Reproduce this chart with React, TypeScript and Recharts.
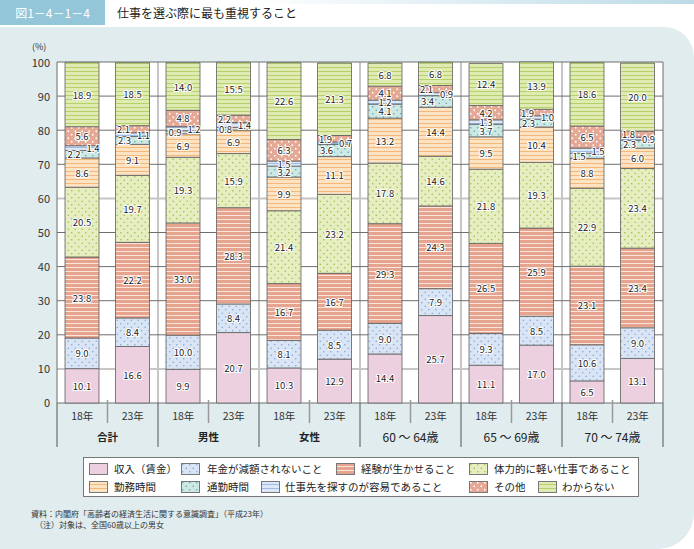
import React from "react";
import { BarChart, Bar, XAxis, YAxis, CartesianGrid, LabelList } from "recharts";

const groups = ["合計", "男性", "女性", "60 ～ 64歳", "65 ～ 69歳", "70 ～ 74歳"];
const years = ["18年", "23年"];

// 下から順に積み上げ（%）
const income = [10.1, 16.6, 9.9, 20.7, 10.3, 12.9, 14.4, 25.7, 11.1, 17.0, 6.5, 13.1];
const pension = [9.0, 8.4, 10.0, 8.4, 8.1, 8.5, 9.0, 7.9, 9.3, 8.5, 10.6, 9.0];
const experience = [23.8, 22.2, 33.0, 28.3, 16.7, 16.7, 29.3, 24.3, 26.5, 25.9, 23.1, 23.4];
const physical = [20.5, 19.7, 19.3, 15.9, 21.4, 23.2, 17.8, 14.6, 21.8, 19.3, 22.9, 23.4];
const hours = [8.6, 9.1, 6.9, 6.9, 9.9, 11.1, 13.2, 14.4, 9.5, 10.4, 8.8, 6.0];
const commute = [2.2, 2.3, 0.9, 0.8, 3.2, 3.6, 4.1, 3.4, 3.7, 2.3, 1.5, 2.3];
const findJob = [1.4, 1.1, 1.2, 1.4, 1.5, 0.7, 1.2, 0.9, 1.3, 1.0, 1.5, 0.9];
const other = [5.6, 2.1, 4.8, 2.2, 6.3, 1.9, 4.1, 2.1, 4.2, 1.9, 6.5, 1.8];
const unknown = [18.9, 18.5, 14.0, 15.5, 22.6, 21.3, 6.8, 6.8, 12.4, 13.9, 18.6, 20.0];

const yTicks = [0, 10, 20, 30, 40, 50, 60, 70, 80, 90, 100];

const rows = income.map((_, i) => ({
  id: `${groups[Math.floor(i / 2)]}-${years[i % 2]}`,
  group: groups[Math.floor(i / 2)],
  year: years[i % 2],
  income: income[i],
  pension: pension[i],
  experience: experience[i],
  physical: physical[i],
  hours: hours[i],
  commute: commute[i],
  findJob: findJob[i],
  other: other[i],
  unknown: unknown[i],
}));

const series = [
  { key: "income", name: "収入（賃金）", fill: "url(#p-income)" },
  { key: "pension", name: "年金が減額されないこと", fill: "url(#p-pension)" },
  { key: "experience", name: "経験が生かせること", fill: "url(#p-exp)" },
  { key: "physical", name: "体力的に軽い仕事であること", fill: "url(#p-phys)" },
  { key: "hours", name: "勤務時間", fill: "url(#p-hours)" },
  { key: "commute", name: "通勤時間", fill: "url(#p-commute)" },
  { key: "findJob", name: "仕事先を探すのが容易であること", fill: "url(#p-find)" },
  { key: "other", name: "その他", fill: "url(#p-other)" },
  { key: "unknown", name: "わからない", fill: "url(#p-unknown)" },
];

const FONT = "'Noto Sans CJK JP', 'Noto Sans', sans-serif";
const W = 694;
const M = { top: 62, right: 31, bottom: 2, left: 0 };
const Y_W = 57;
const X_H = 45;
const CH = 450;
const PL = M.left + Y_W;
const PW = W - M.right - PL;
const PT = M.top;
const PH = CH - M.bottom - X_H - PT;
const SLOT = PW / rows.length;

const yPix = (v: number) => PT + PH * (1 - v / 100);
const groupEdges = groups.map((_, g) => PL + g * 2 * SLOT).slice(1);

function nudge(key: string, i: number) {
  const tight = commute[i] < 2.5 || other[i] < 2.5;
  if (key === "findJob" && tight) return 11;
  if (key === "commute" && tight && commute[i] < 4) return -8;
  if (key === "other" && other[i] < 2.5) return -9;
  return 0;
}

const makeLabel = (key: string) => (props: any) => {
  const { x, y, width, height, value, index } = props;
  if (value == null) return null;
  const dx = nudge(key, index ?? 0);
  return (
    <text
      x={Number(x) + Number(width) / 2 + dx}
      y={Number(y) + Number(height) / 2}
      textAnchor="middle"
      dominantBaseline="central"
      fontSize={9.5}
      fontFamily={FONT}
      fill="#222"
      stroke="#fff"
      strokeWidth={2.2}
      strokeLinejoin="round"
      paintOrder="stroke"
    >
      {Number(value).toFixed(1)}
    </text>
  );
};

function AxisTick(props: any) {
  const { x, y, index } = props;
  const row = rows[index];
  const even = index % 2 === 0;
  const last = index === rows.length - 1;
  const bold = index < 6;
  return (
    <g>
      <text x={x} y={y + 12} textAnchor="middle" dominantBaseline="central" fontSize={10.5} fontFamily={FONT} fill="#333">
        {row.year}
      </text>
      {even && (
        <>
          <text
            x={x + SLOT / 2}
            y={y + 33}
            textAnchor="middle"
            dominantBaseline="central"
            fontSize={bold ? 10.5 : 12}
            fontWeight={bold ? 700 : 400}
            fontFamily={FONT}
            fill="#222"
          >
            {row.group}
          </text>
          <line x1={x + SLOT / 2} x2={x + SLOT / 2} y1={y - 3} y2={y + 20} stroke="#999" strokeWidth={1.5} />
          <line x1={x - SLOT / 2} x2={x - SLOT / 2} y1={y} y2={y + 44} stroke="#555" strokeWidth={1} />
        </>
      )}
      {last && <line x1={x + SLOT / 2} x2={x + SLOT / 2} y1={y} y2={y + 44} stroke="#555" strokeWidth={1} />}
    </g>
  );
}

function Patterns() {
  const dots = (id: string, bg: string, dot: string, r = 0.8) => (
    <pattern id={id} width={7} height={7} patternUnits="userSpaceOnUse">
      <rect width={7} height={7} fill={bg} />
      <circle cx={1.75} cy={1.75} r={r} fill={dot} />
      <circle cx={5.25} cy={5.25} r={r} fill={dot} />
    </pattern>
  );
  const stripes = (id: string, bg: string, line: string, w = 1) => (
    <pattern id={id} width={8} height={4} patternUnits="userSpaceOnUse">
      <rect width={8} height={4} fill={bg} />
      <rect y={3} width={8} height={w} fill={line} />
    </pattern>
  );
  return (
    <svg width={0} height={0} style={{ position: "absolute" }}>
      <defs>
        <pattern id="p-income" width={4} height={4} patternUnits="userSpaceOnUse">
          <rect width={4} height={4} fill="#EDD0DF" />
        </pattern>
        {dots("p-pension", "#D9E5F4", "#84A7D8")}
        {stripes("p-exp", "#E6A38E", "#FBE4DC", 1.3)}
        {dots("p-phys", "#E5EDC1", "#9EC04A")}
        {stripes("p-hours", "#FCE3C4", "#F4B87A")}
        {dots("p-commute", "#CDE7E5", "#5AAFA6")}
        {stripes("p-find", "#DCE7F7", "#9EBBE6")}
        {dots("p-other", "#E4A894", "#FFFFFF", 0.9)}
        {stripes("p-unknown", "#E0EBB3", "#B6D06A")}
      </defs>
    </svg>
  );
}

const legendRow1 = [
  { s: 0, sx: 5, tx: 30 },
  { s: 1, sx: 97, tx: 123 },
  { s: 2, sx: 252, tx: 277 },
  { s: 3, sx: 385, tx: 410 },
];
const legendRow2 = [
  { s: 4, sx: 5, tx: 30 },
  { s: 5, sx: 97, tx: 123 },
  { s: 6, sx: 177, tx: 201 },
  { s: 7, sx: 385, tx: 410 },
  { s: 8, sx: 454, tx: 478 },
];

function Legend() {
  const item = (it: { s: number; sx: number; tx: number }, cy: number) => (
    <React.Fragment key={it.s}>
      <svg width={19} height={12} style={{ position: "absolute", left: it.sx, top: cy - 6 }}>
        <rect x={0.5} y={0.5} width={18} height={11} fill={series[it.s].fill} stroke="#777" strokeWidth={1} />
      </svg>
      <div
        style={{
          position: "absolute",
          left: it.tx,
          top: cy - 8,
          fontSize: 10.5,
          lineHeight: "16px",
          whiteSpace: "nowrap",
          color: "#222",
        }}
      >
        {series[it.s].name}
      </div>
    </React.Fragment>
  );
  return (
    <div
      style={{
        position: "absolute",
        left: 83,
        top: 457,
        width: 556,
        height: 40,
        boxSizing: "border-box",
        border: "1px solid #777",
        background: "#fff",
        fontFamily: FONT,
      }}
    >
      {legendRow1.map((it) => item(it, 11))}
      {legendRow2.map((it) => item(it, 29))}
    </div>
  );
}

export default function App() {
  return (
    <div style={{ position: "absolute", left: 0, top: 0, width: W, height: 549, background: "#fff", fontFamily: FONT, overflow: "hidden" }}>
      <Patterns />
      <div
        style={{
          position: "absolute",
          left: 105,
          top: 0,
          width: W - 105,
          height: 4,
          background: "linear-gradient(to right, #fff 25%, #bcdbe7 100%)",
        }}
      />
      <div
        style={{
          position: "absolute",
          left: 0,
          top: 27,
          width: W,
          height: 549 - 27,
          background: "#E1ECEE",
          borderBottomRightRadius: 36,
          borderTopRightRadius: 30,
        }}
      />
      <div
        style={{
          position: "absolute",
          left: 0,
          top: 0,
          width: 105,
          height: 25,
          background: "#92C6D8",
          color: "#fff",
          fontSize: 12,
          lineHeight: "25px",
          textAlign: "center",
        }}
      >
        図1－4－1－4
      </div>
      <div style={{ position: "absolute", left: 117, top: 4, fontSize: 12, lineHeight: "18px", color: "#222" }}>
        仕事を選ぶ際に最も重視すること
      </div>
      <div style={{ position: "absolute", left: 32, top: 41, fontSize: 9, lineHeight: "12px", color: "#333" }}>(%)</div>

      <div style={{ position: "absolute", left: 0, top: 0 }}>
        <BarChart width={W} height={CH} data={rows} margin={M} barSize={34}>
          <CartesianGrid
            horizontalPoints={[yPix(10), yPix(60)]}
            verticalPoints={groupEdges}
            stroke="#c6c6c6"
            strokeWidth={2}
            fill="#fff"
          />
          <CartesianGrid
            horizontalPoints={yTicks.filter((v) => v !== 10 && v !== 60).map(yPix)}
            verticalPoints={[PL, PL + PW]}
            stroke="#6e6e6e"
            strokeWidth={1}
          />
          <XAxis
            dataKey="id"
            height={X_H}
            interval={0}
            tickLine={false}
            axisLine={false}
            tickSize={0}
            tickMargin={0}
            tick={<AxisTick />}
          />
          <YAxis
            width={Y_W}
            domain={[0, 100]}
            ticks={yTicks}
            interval={0}
            tickLine={false}
            axisLine={false}
            tickSize={0}
            tickMargin={7}
            tick={{ fontSize: 11, fill: "#333", fontFamily: FONT }}
          />
          {series.map((s) => (
            <Bar
              key={s.key}
              dataKey={s.key}
              name={s.name}
              stackId="a"
              fill={s.fill}
              stroke="#5e5e5e"
              strokeWidth={0.8}
              isAnimationActive={false}
            >
              <LabelList dataKey={s.key} content={makeLabel(s.key)} />
            </Bar>
          ))}
        </BarChart>
      </div>

      <Legend />

      <div style={{ position: "absolute", left: 31, top: 508, fontSize: 8, lineHeight: "11px", color: "#333", whiteSpace: "nowrap" }}>
        資料：内閣府「高齢者の経済生活に関する意識調査」（平成23年）
        <br />
        <span style={{ marginLeft: 4 }}>（注）対象は、全国60歳以上の男女</span>
      </div>
    </div>
  );
}
